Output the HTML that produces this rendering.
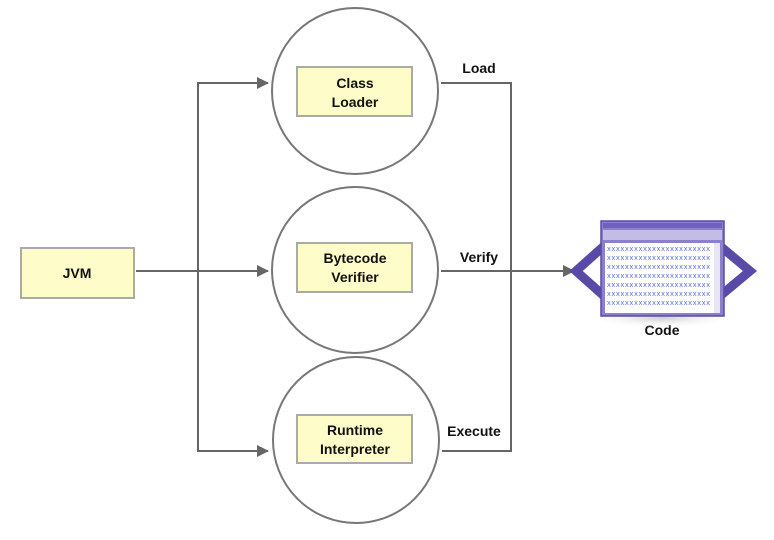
<!DOCTYPE html>
<html><head><style>body{margin:0;background:#fff}</style></head><body>
<svg width="774" height="535" xmlns="http://www.w3.org/2000/svg" font-family="Liberation Sans, sans-serif" font-weight="bold">
<defs>
<marker id="a" markerWidth="12" markerHeight="12" refX="11" refY="6" orient="auto" markerUnits="userSpaceOnUse"><path d="M0,0 L12,6 L0,12 z" fill="#666"/></marker>
<radialGradient id="sh" cx="0.5" cy="0.5" r="0.5"><stop offset="0" stop-color="#ccc"/><stop offset="1" stop-color="#fff" stop-opacity="0"/></radialGradient>
</defs>
<g stroke="#666" stroke-width="2" fill="none">
<line x1="136" y1="271" x2="268" y2="271" marker-end="url(#a)"/>
<polyline points="266,83 198,83 198,451 266,451" fill="none"/>
<line x1="198" y1="83" x2="268" y2="83" marker-end="url(#a)"/>
<line x1="198" y1="451" x2="268" y2="451" marker-end="url(#a)"/>
<polyline points="441,83 511,83 511,451 442,451"/>
<line x1="441" y1="271" x2="574" y2="271" marker-end="url(#a)"/>
</g>
<g stroke="#777" stroke-width="2" fill="#fff">
<circle cx="355" cy="91" r="83"/>
<circle cx="355" cy="270" r="83"/>
<circle cx="356" cy="440" r="83"/>
</g>
<g fill="#fefcc8" stroke="#aaa" stroke-width="2">
<rect x="21" y="248" width="113" height="50"/>
<rect x="297" y="67" width="115" height="49"/>
<rect x="297" y="243" width="115" height="49"/>
<rect x="297" y="415" width="115" height="48"/>
</g>
<g font-size="14" text-anchor="middle" fill="#111">
<text x="77" y="278">JVM</text>
<text x="355" y="88">Class</text><text x="355" y="107">Loader</text>
<text x="355" y="263">Bytecode</text><text x="355" y="282">Verifier</text>
<text x="355" y="435">Runtime</text><text x="355" y="454">Interpreter</text>
<text x="479" y="73">Load</text>
<text x="479" y="262">Verify</text>
<text x="474" y="436">Execute</text>
<text x="662" y="335">Code</text>
</g>
<ellipse cx="662" cy="318" rx="75" ry="10" fill="url(#sh)"/>
<g stroke="#5a4aa8" stroke-width="9" fill="none" stroke-linejoin="miter">
<polyline points="604,246 576,271 604,296"/>
<polyline points="720,246 750,271 720,296"/>
</g>
<rect x="601" y="221" width="123" height="95" fill="#8b80cc" stroke="#5a4aa8" stroke-width="1.5"/>
<rect x="603" y="223" width="119" height="5" fill="#6f62b8"/>
<rect x="603" y="230" width="119" height="10" fill="#c3bde6"/>
<rect x="605" y="243" width="115" height="70" fill="#fff"/>
<g font-size="7.5" font-weight="normal" fill="#5b6fd8" font-family="Liberation Sans, sans-serif">
<text x="607" y="251" textLength="103">xxxxxxxxxxxxxxxxxxxxxxx</text>
<text x="607" y="260" textLength="103">xxxxxxxxxxxxxxxxxxxxxxx</text>
<text x="607" y="269" textLength="103">xxxxxxxxxxxxxxxxxxxxxxx</text>
<text x="607" y="278" textLength="103">xxxxxxxxxxxxxxxxxxxxxxx</text>
<text x="607" y="287" textLength="103">xxxxxxxxxxxxxxxxxxxxxxx</text>
<text x="607" y="296" textLength="103">xxxxxxxxxxxxxxxxxxxxxxx</text>
<text x="607" y="305" textLength="103">xxxxxxxxxxxxxxxxxxxxxxx</text>
</g>
<rect x="714" y="243" width="6" height="70" fill="#e8e6f4"/>
</svg>
</body></html>
